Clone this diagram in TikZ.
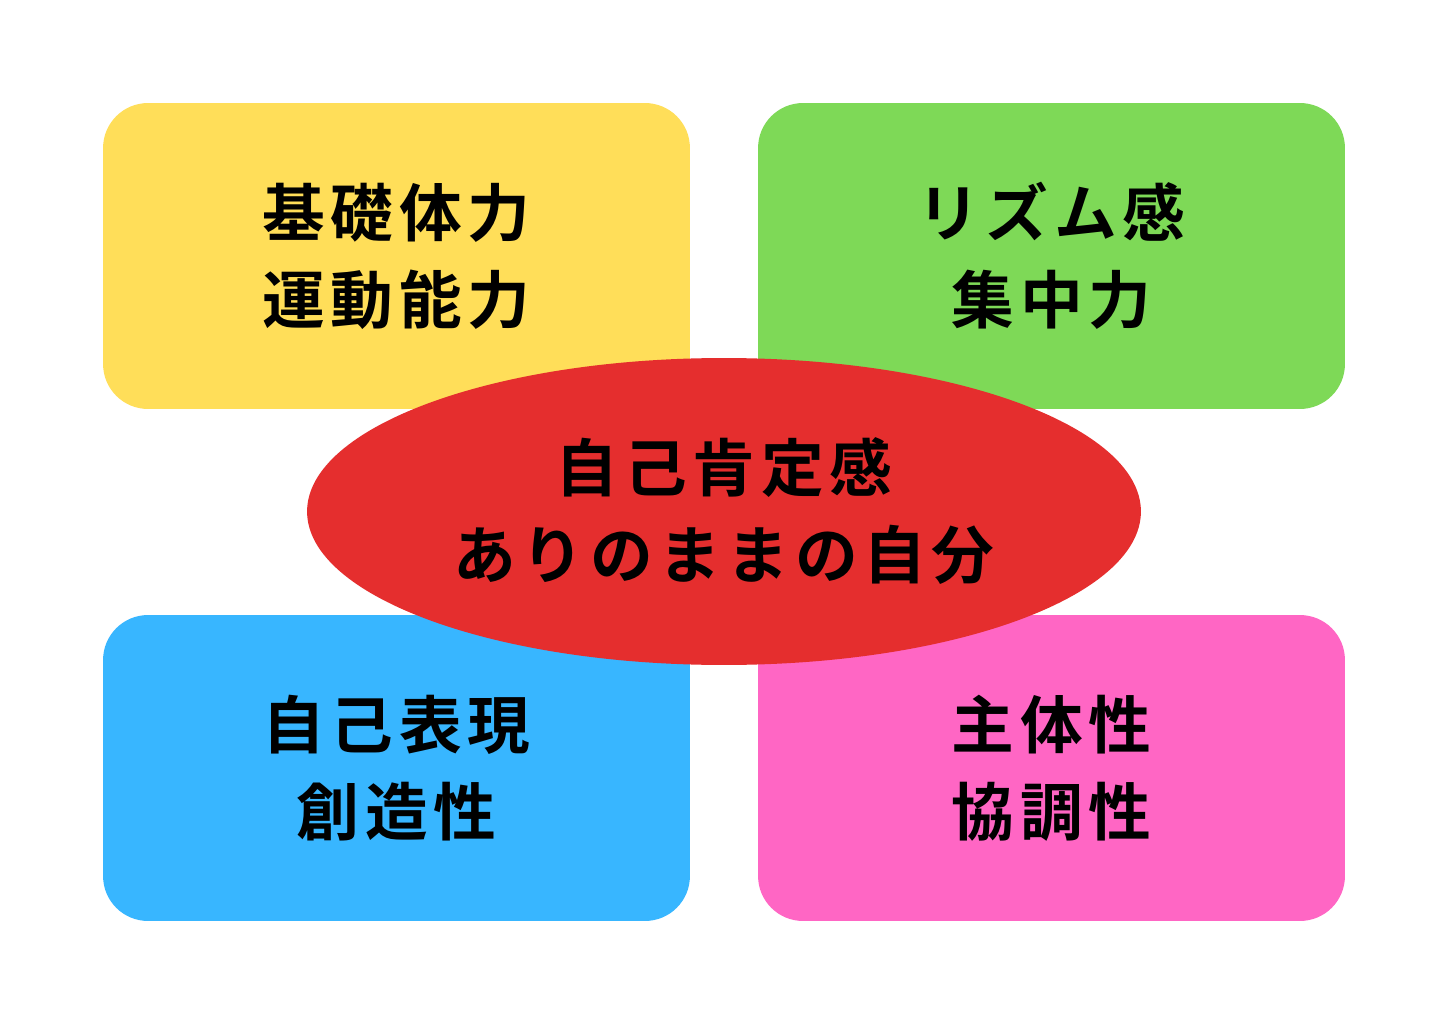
\documentclass[tikz,border=0pt]{standalone}
\usepackage{fontspec}
\usepackage{xcolor}
\usepackage{tikz}
\usetikzlibrary{shapes,positioning}
\newfontfamily\jpfont{Noto Sans CJK JP Bold}[LetterSpace=9]
\definecolor{cardyellow}{HTML}{FFDE59}
\definecolor{cardgreen}{HTML}{7ED957}
\definecolor{cardblue}{HTML}{38B6FF}
\definecolor{cardpink}{HTML}{FF66C4}
\definecolor{corered}{HTML}{E52E2E}

\begin{document}
\begin{tikzpicture}[x=0.02cm,y=-0.02cm,
  jptext/.style={font=\jpfont\fontsize{35.7pt}{49.5pt}\selectfont,align=center,text=black},
  card/.style={rectangle,rounded corners=0.9cm,minimum width=11.74cm,minimum height=6.12cm,inner sep=0pt,jptext}]
  % Page
  \fill[white] (0,0) rectangle (1448,1024);

  % Cards
  \node[card,fill=cardyellow] (physical) at (396.5,256) {基礎体力\\運動能力};
  \node[card,fill=cardgreen] (rhythm) at (1051.5,256) {リズム感\\集中力};
  \node[card,fill=cardblue] (express) at (396.5,768) {自己表現\\創造性};
  \node[card,fill=cardpink] (initiative) at (1051.5,768) {主体性\\協調性};

  % Centre
  \node[ellipse,fill=corered,minimum width=16.68cm,minimum height=6.14cm,inner sep=0pt,jptext] (self) at (724,511.5) {自己肯定感\\ありのままの自分};
\end{tikzpicture}
\end{document}
